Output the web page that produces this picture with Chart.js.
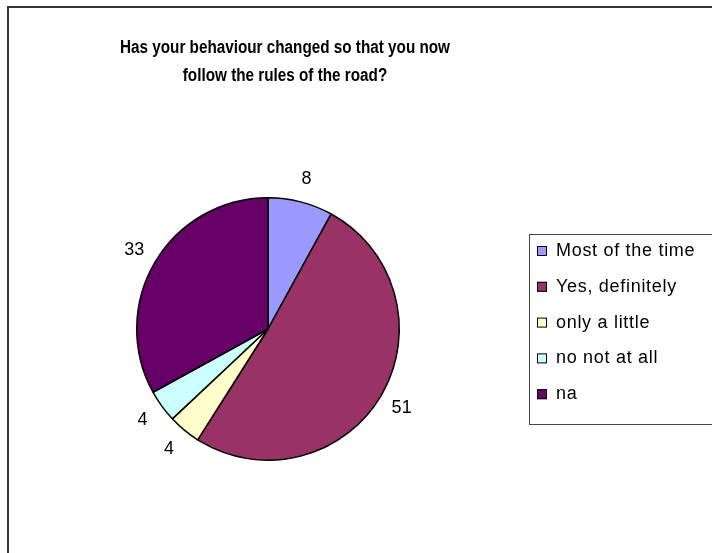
<!DOCTYPE html>
<html>
<head>
<meta charset="utf-8">
<script src="https://cdn.jsdelivr.net/npm/chart.js@4/dist/chart.umd.min.js"></script>
<style>
  html, body { margin: 0; padding: 0; background: #fff; }
  #wrap { width: 712px; height: 553px; position: relative; }
</style>
</head>
<body>
<div id="wrap"><canvas id="roadChart" width="712" height="553"></canvas></div>
<script>
const titleLines = ['Has your behaviour changed so that you now', 'follow the rules of the road?'];
const answers = ['Most of the time', 'Yes, definitely', 'only a little', 'no not at all', 'na'];
const responses = [8, 51, 4, 4, 33];
const sliceColors = ['#9999FF', '#993366', '#FFFFCC', '#CCFFFF', '#660066'];

const FONT = '"Liberation Sans", Arial, sans-serif';

// frame, title, value labels and the boxed legend
const decorations = {
  id: 'decorations',
  afterDraw(chart) {
    const ctx = chart.ctx;
    ctx.save();

    // outer frame (runs off the right and bottom edge)
    ctx.strokeStyle = '#333';
    ctx.lineWidth = 2;
    ctx.strokeRect(8, 7, 760, 620);

    ctx.fillStyle = '#000';
    ctx.textAlign = 'center';
    ctx.textBaseline = 'middle';

    // title, squeezed horizontally like the original narrow bold face
    ctx.font = 'bold 18px ' + FONT;
    const squeeze = 330 / ctx.measureText(titleLines[0]).width;
    ctx.save();
    ctx.translate(285, 0);
    ctx.scale(squeeze, 1);
    titleLines.forEach((line, i) => ctx.fillText(line, 0, 48 + i * 28));
    ctx.restore();

    // value labels outside each slice
    const meta = chart.getDatasetMeta(0);
    ctx.font = '18px ' + FONT;
    meta.data.forEach((arc, i) => {
      const mid = (arc.startAngle + arc.endAngle) / 2;
      const d = arc.outerRadius + 24;
      ctx.fillText(String(responses[i]), arc.x + Math.cos(mid) * d, arc.y + Math.sin(mid) * d);
    });

    // legend
    ctx.lineWidth = 1;
    ctx.strokeStyle = '#444';
    ctx.strokeRect(529.5, 234.5, 200, 190);
    ctx.textAlign = 'left';
    ctx.letterSpacing = '0.7px';
    answers.forEach((name, i) => {
      const y = 251 + i * 35.8;
      ctx.fillStyle = sliceColors[i];
      ctx.fillRect(537, y - 5, 10, 10);
      ctx.strokeStyle = '#000';
      ctx.strokeRect(537.5, y - 4.5, 9, 9);
      ctx.fillStyle = '#000';
      ctx.fillText(name, 556, y);
    });

    ctx.restore();
  }
};

new Chart(document.getElementById('roadChart'), {
  type: 'pie',
  data: {
    labels: answers,
    datasets: [{
      data: responses,
      backgroundColor: sliceColors,
      borderColor: '#000',
      borderWidth: 1.5
    }]
  },
  options: {
    responsive: false,
    animation: false,
    layout: { padding: { left: 136, right: 312, top: 197, bottom: 92 } },
    plugins: {
      legend: { display: false },
      title: { display: false },
      tooltip: { enabled: false }
    }
  },
  plugins: [decorations]
});
</script>
</body>
</html>
